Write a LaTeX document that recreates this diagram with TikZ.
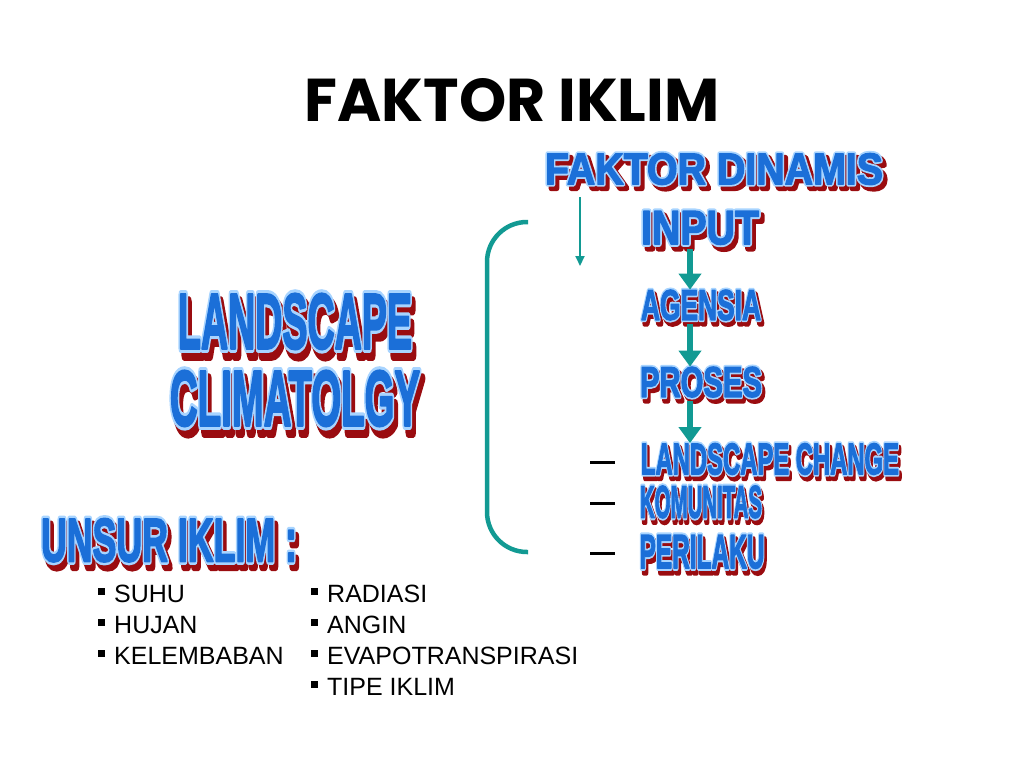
\documentclass[tikz,border=0pt]{standalone}
\usepackage{fontspec}
\usepackage{graphicx}
\usetikzlibrary{arrows.meta}
\setmainfont{Liberation Sans}
\newfontfamily\titlefont{Poppins}[BoldFont={Poppins Bold}]
\newfontfamily\wafont{Liberation Sans}
\definecolor{wablue}{HTML}{1B6FD8}
\definecolor{walight}{HTML}{A8D4FF}
\definecolor{wared}{HTML}{9A0C10}
\definecolor{teal2}{HTML}{129A93}
% WordArt-like text: red extruded shadow, light outline (stroked copy), blue fill on top
\newcommand\walayer[1]{%
  \rlap{\hspace{0.9pt}\raisebox{-0.9pt}{\color{wared}\special{pdf:code q 0.604 0.047 0.063 RG 1.3 w 1 j 2 Tr}#1\special{pdf:code Q}}}%
  \rlap{\color{walight}\special{pdf:code q 0.659 0.831 1 RG 1.1 w 1 j 2 Tr}#1\special{pdf:code Q}}%
  {\color{wablue}\special{pdf:code q 0.106 0.435 0.847 RG 0.3 w 1 j 2 Tr}#1\special{pdf:code Q}}}
\newcommand\wa[3]{\resizebox{#1}{#2}{\wafont\fontsize{10}{12}\selectfont\bfseries\walayer{#3}}}
\newcommand\blt{\raisebox{7pt}{\rule{7pt}{7pt}}\hspace{9pt}}
\begin{document}
\begin{tikzpicture}[x=1pt,y=-1pt,
  wa/.style={inner sep=0pt, anchor=center},
  item/.style={inner sep=0pt, anchor=base west, font=\fontsize{25}{30}\selectfont},
  garrow/.style={draw=teal2, line width=6pt, -{Triangle[width=22pt,length=16pt]}},
  thinarrow/.style={draw=teal2, line width=2pt, -{Triangle[width=9pt,length=10pt]}},
  bracketline/.style={draw=teal2, line width=4.5pt, rounded corners=40pt},
  dashline/.style={draw=black, line width=3pt}]
\useasboundingbox (0,0) rectangle (1024,768);

\node[inner sep=0pt] (title) at (512,100) {\resizebox{415pt}{43pt}{\titlefont\bfseries FAKTOR IKLIM}};

\node[wa] (fd) at (714,171) {\wa{338pt}{31pt}{FAKTOR DINAMIS}};
\node[wa] (inp) at (700,230) {\wa{118pt}{33pt}{INPUT}};
\node[wa] (ag) at (701,307) {\wa{120pt}{30pt}{AGENSIA}};
\node[wa] (pr) at (701,384) {\wa{122pt}{30pt}{PROSES}};
\node[wa] (lc) at (770,461) {\wa{258pt}{31pt}{LANDSCAPE CHANGE}};
\node[wa] (ko) at (701,504) {\wa{122pt}{32pt}{KOMUNITAS}};
\node[wa] (pe) at (702,554) {\wa{125pt}{33pt}{PERILAKU}};

\node[wa] (ls) at (295,325) {\wa{234pt}{55pt}{LANDSCAPE}};
\node[wa] (cl) at (295,402) {\wa{250pt}{55pt}{CLIMATOLGY}};
\node[wa] (un) at (169,543) {\wa{256pt}{43pt}{UNSUR IKLIM :}};

\coordinate (ax) at (690,0);
\draw[garrow] (inp.south -| ax) -- (ag.north -| ax);
\draw[garrow] (ag.south -| ax) -- (pr.north -| ax);
\draw[garrow] (pr.south -| ax) -- (lc.north -| ax);

\coordinate (bt) at (528,222);
\coordinate (bb) at (528,552);
\draw[bracketline] (bt) -- (487,222) -- (487,552) -- (bb);

\coordinate (ta) at (580,197);
\coordinate (tb) at (580,266);
\draw[thinarrow] (ta) -- (tb);

\coordinate (d1a) at (590,462); \coordinate (d1b) at (615,462);
\coordinate (d2a) at (590,503); \coordinate (d2b) at (615,503);
\coordinate (d3a) at (590,553); \coordinate (d3b) at (615,553);
\draw[dashline] (d1a) -- (d1b);
\draw[dashline] (d2a) -- (d2b);
\draw[dashline] (d3a) -- (d3b);

\node[item] (i1) at (98,602) {\blt SUHU};
\node[item] (i2) at (98,633) {\blt HUJAN};
\node[item] (i3) at (98,664) {\blt KELEMBABAN};
\node[item] (j1) at (311,602) {\blt RADIASI};
\node[item] (j2) at (311,633) {\blt ANGIN};
\node[item] (j3) at (311,664) {\blt EVAPOTRANSPIRASI};
\node[item] (j4) at (311,695) {\blt TIPE IKLIM};
\end{tikzpicture}
\end{document}
